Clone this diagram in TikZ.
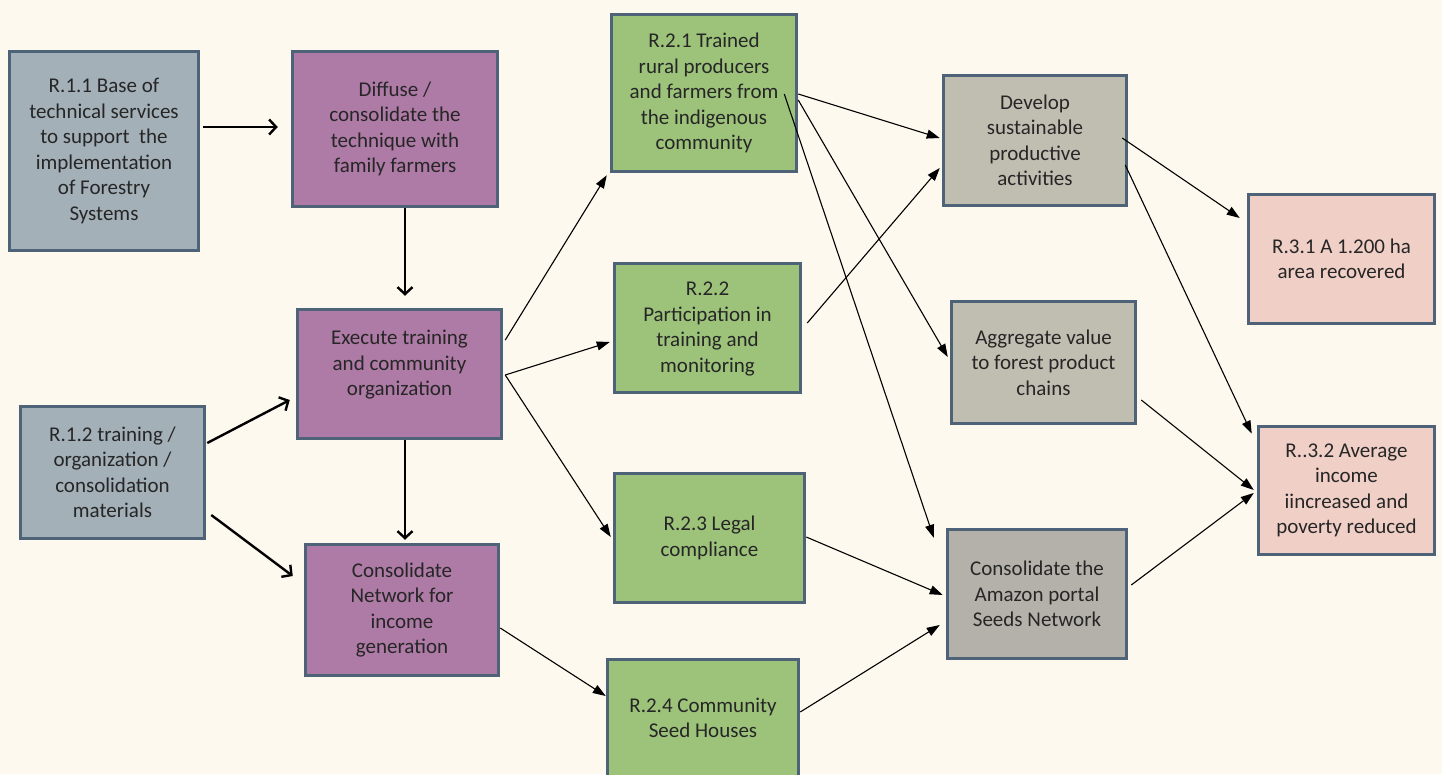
\documentclass[tikz,border=0pt]{standalone}
\usepackage{fontspec}
\setmainfont{Carlito}
\usetikzlibrary{arrows.meta,calc}
\definecolor{bg}{HTML}{FEF9EE}
\definecolor{edge}{HTML}{4E6378}
\definecolor{bluegrey}{HTML}{A4B0B8}
\definecolor{purp}{HTML}{AE7AA6}
\definecolor{grn}{HTML}{9DC37B}
\definecolor{greyA}{HTML}{C0BDB1}
\definecolor{greyB}{HTML}{B3B1A9}
\definecolor{pnk}{HTML}{F0CFC6}
\definecolor{txt}{HTML}{262626}
\tikzset{
  box/.style={draw=edge, line width=3.5pt, rectangle, align=center, inner sep=0pt,
    text=txt, font=\fontsize{21}{25.5}\selectfont},
  thickarr/.style={line width=2.4pt, -{Straight Barb[length=7pt,width=15pt,line width=2.4pt]}},
  thinarr/.style={line width=1.1pt, -{Triangle[length=13pt,width=9pt]}},
}
\begin{document}
\begin{tikzpicture}[x=1pt,y=-1pt]
\clip (0,0) rectangle (1442,774);
\fill[bg] (0,0) rectangle (1442,774);
% column 1
\node[box, fill=bluegrey, minimum width=189pt, minimum height=199pt] (r11) at (104,151)
  {R.1.1 Base of\\technical services\\to support\ \ the\\implementation\\of Forestry\\Systems};
\node[box, fill=bluegrey, minimum width=184pt, minimum height=132pt] (r12) at (112.5,472.5)
  {R.1.2 training /\\organization /\\consolidation\\materials};
% column 2
\node[box, fill=purp, minimum width=205pt, minimum height=155pt] (dif) at (395,129)
  {Diffuse /\\consolidate the\\technique with\\family farmers};
\node[box, fill=purp, minimum width=204pt, minimum height=129pt] (exe) at (399.5,374)
  {Execute training\\and community\\organization\\[-3.5pt]};
\node[box, fill=purp, minimum width=193pt, minimum height=131pt] (cn) at (402,610)
  {Consolidate\\Network for\\income\\generation};
% column 3
\node[box, fill=grn, minimum width=185pt, minimum height=157pt] (r21) at (704,93)
  {R.2.1 Trained\\rural producers\\and farmers from\\the indigenous\\community};
\node[box, fill=grn, minimum width=186pt, minimum height=129pt] (r22) at (707.5,328)
  {\\[-10pt]R.2.2\\Participation in\\training and\\monitoring};
\node[box, fill=grn, minimum width=190pt, minimum height=129pt] (r23) at (709.5,538)
  {R.2.3 Legal\\compliance};
\node[box, fill=grn, minimum width=191pt, minimum height=129pt] (r24) at (703,724)
  {R.2.4 Community\\Seed Houses\\[-13.5pt]};
% column 4
\node[box, fill=greyA, minimum width=183pt, minimum height=130pt] (dev) at (1035,140.5)
  {Develop\\sustainable\\productive\\activities};
\node[box, fill=greyA, minimum width=184pt, minimum height=122pt] (agg) at (1043.5,362.5)
  {Aggregate value\\to forest product\\chains};
\node[box, fill=greyB, minimum width=179pt, minimum height=129pt] (amz) at (1037,594)
  {Consolidate the\\Amazon portal\\Seeds Network};
% column 5
\node[box, fill=pnk, minimum width=186pt, minimum height=129pt] (r31) at (1341.5,259)
  {R.3.1 A 1.200 ha\\area recovered};
\node[box, fill=pnk, minimum width=176pt, minimum height=128pt] (r32) at (1346.5,490.5)
  {R..3.2 Average\\income\\iincreased and\\poverty reduced};
% thick arrows
\draw[thickarr] ($(r11.east)+(3,-24)$) -- ($(dif.west)+(-13,-2)$);
\draw[thickarr] ($(dif.south)+(10,0)$) -- ($(exe.north)+(5.5,-12)$);
\draw[thickarr] ($(r12.east)+(1,-29.5)$) -- ($(exe.west)+(-6,26)$);
\draw[thickarr] ($(r12.east)+(5,42.5)$) -- ($(cn.west)+(-11,-34)$);
\draw[thickarr] ($(exe.south)+(5.5,0)$) -- ($(cn.north)+(3,-3)$);
% thin arrows
\draw[thinarr] ($(exe.east)+(2,-34)$) -- ($(r21.south west)+(-3,2)$);
\draw[thinarr] ($(exe.east)+(2,1)$) -- ($(r22.west)+(-3,14)$);
\draw[thinarr] ($(exe.east)+(2,1)$) -- ($(r23.west)+(-2,-1)$);
\draw[thinarr] ($(cn.east)+(0,18)$) -- ($(r24.west)+(0,-28)$);
\draw[thinarr] ($(r21.east)+(0,1)$) -- ($(dev.west)+(-2,-2.5)$);
\draw[thinarr] ($(r21.east)+(0,7)$) -- ($(agg.west)+(-2,-5.5)$);
\draw[thinarr] ($(r21.east)+(-14,1)$) -- ($(amz.north west)+(-12,10)$);
\draw[thinarr] ($(r22.east)+(5,-5)$) -- ($(dev.west)+(-2,27.5)$);
\draw[thinarr] ($(r23.east)+(0,-1)$) -- ($(amz.west)+(-3,1)$);
\draw[thinarr] ($(r24.east)+(0,-12)$) -- ($(amz.west)+(-6,31)$);
\draw[thinarr] ($(dev.east)+(-6,-2.5)$) -- ($(r31.west)+(-7,-41)$);
\draw[thinarr] ($(dev.east)+(-3,24.5)$) -- ($(r32.north west)+(-5,9)$);
\draw[thinarr] ($(agg.east)+(4,37.5)$) -- ($(r32.west)+(-3,-0.5)$);
\draw[thinarr] ($(amz.east)+(3,-9)$) -- ($(r32.west)+(-3,2.5)$);
\end{tikzpicture}
\end{document}
